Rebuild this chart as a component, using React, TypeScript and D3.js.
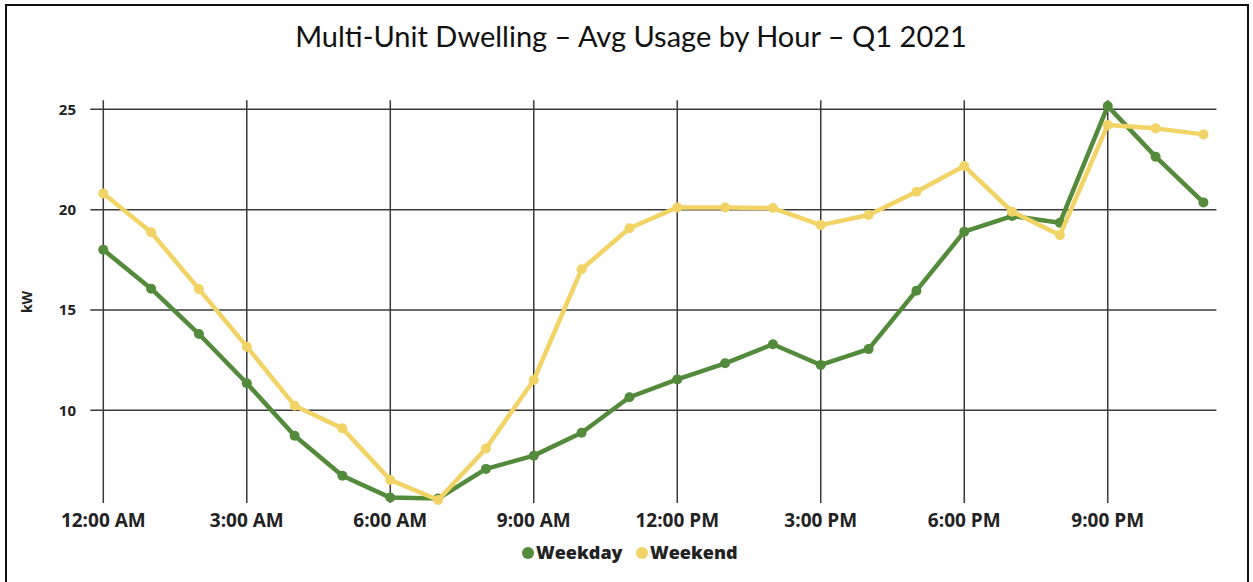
import { useEffect, useRef } from "react";
import * as d3 from "d3";

const hours = d3.range(24);
const tickHours = [0, 3, 6, 9, 12, 15, 18, 21];
const tickLabels = ["12:00 AM", "3:00 AM", "6:00 AM", "9:00 AM", "12:00 PM", "3:00 PM", "6:00 PM", "9:00 PM"];
const yTicks = [10, 15, 20, 25];

const weekday = [18.0, 16.06, 13.8, 11.35, 8.73, 6.74, 5.65, 5.6, 7.08, 7.74, 8.88, 10.65, 11.54, 12.34, 13.29, 12.26, 13.05, 15.96, 18.9, 19.68, 19.35, 25.16, 22.64, 20.36];
const weekend = [20.81, 18.87, 16.04, 13.17, 10.23, 9.1, 6.53, 5.53, 8.1, 11.51, 17.03, 19.07, 20.11, 20.11, 20.08, 19.23, 19.73, 20.89, 22.17, 19.9, 18.73, 24.22, 24.05, 23.75];

const series = [
    { name: "Weekday", values: weekday, color: "#538a3c" },
    { name: "Weekend", values: weekend, color: "#f2d466" },
];

const W = 1253;
const H = 582;

export default function App() {
    const svgRef = useRef<SVGSVGElement | null>(null);

    useEffect(() => {
        if (!svgRef.current) return;
        const svg = d3.select(svgRef.current);
        svg.selectAll("*").remove();

        const x = d3.scaleLinear().domain([0, 23]).range([103.3, 1203.4]);
        const y = d3.scaleLinear().domain([5.38, 25]).range([503, 109.3]);

        svg.append("rect").attr("width", W).attr("height", H).attr("fill", "#fff");
        svg.append("rect")
            .attr("x", 6).attr("y", 5).attr("width", 1242).attr("height", H + 10)
            .attr("fill", "none").attr("stroke", "#111").attr("stroke-width", 2);

        svg.append("text")
            .attr("x", 631).attr("y", 47)
            .attr("text-anchor", "middle")
            .attr("font-family", "Lato, 'Open Sans', sans-serif")
            .attr("font-size", 29)
            .attr("fill", "#111")
            .text("Multi-Unit Dwelling \u2013 Avg Usage by Hour \u2013 Q1 2021");

        // grid
        const grid = svg.append("g").attr("stroke", "#3a3a3a").attr("stroke-width", 1.5);
        grid.selectAll("line.h").data(yTicks).join("line")
            .attr("class", "h")
            .attr("x1", x(0) - 13).attr("x2", x(23) + 13)
            .attr("y1", (d) => y(d)).attr("y2", (d) => y(d));
        grid.selectAll("line.v").data(tickHours).join("line")
            .attr("class", "v")
            .attr("x1", (d) => x(d)).attr("x2", (d) => x(d))
            .attr("y1", y(25) - 9).attr("y2", y.range()[0]);

        const font = "'Open Sans', sans-serif";
        svg.append("g").selectAll("text").data(yTicks).join("text")
            .attr("x", 76).attr("y", (d) => y(d))
            .attr("dy", "0.35em")
            .attr("text-anchor", "end")
            .attr("font-family", font).attr("font-weight", 700).attr("font-size", 15)
            .attr("fill", "#222")
            .text((d) => d);

        svg.append("g").selectAll("text").data(tickHours).join("text")
            .attr("x", (d) => x(d)).attr("y", 527)
            .attr("text-anchor", "middle")
            .attr("font-family", font).attr("font-weight", 700).attr("font-size", 19)
            .attr("fill", "#222")
            .text((d, i) => tickLabels[i]);

        svg.append("text")
            .attr("transform", "translate(32,302) rotate(-90)")
            .attr("text-anchor", "middle")
            .attr("font-family", font).attr("font-weight", 700).attr("font-size", 14)
            .attr("fill", "#222")
            .text("kW");

        const line = d3.line<number>()
            .x((d, i) => x(hours[i]))
            .y((d) => y(d));

        series.forEach((s) => {
            const g = svg.append("g");
            g.append("path")
                .datum(s.values)
                .attr("fill", "none")
                .attr("stroke", s.color)
                .attr("stroke-width", 4.5)
                .attr("stroke-linejoin", "round")
                .attr("d", line);
            g.selectAll("circle").data(s.values).join("circle")
                .attr("cx", (d, i) => x(hours[i]))
                .attr("cy", (d) => y(d))
                .attr("r", 5)
                .attr("fill", s.color);
        });

        // legend
        const legend = svg.append("g").attr("transform", "translate(528,553)");
        const offsets = [0, 114];
        series.forEach((s, i) => {
            const lg = legend.append("g").attr("transform", `translate(${offsets[i]},0)`);
            lg.append("circle").attr("r", 6).attr("fill", s.color);
            lg.append("text")
                .attr("x", 8).attr("dy", "0.35em")
                .attr("font-family", font).attr("font-weight", 800).attr("font-size", 18)
                .attr("fill", "#222")
                .text(s.name);
        });
    }, []);

    return (
        <svg ref={svgRef} width={W} height={H} style={{ position: "absolute", left: 0, top: 0 }}></svg>
    );
}
